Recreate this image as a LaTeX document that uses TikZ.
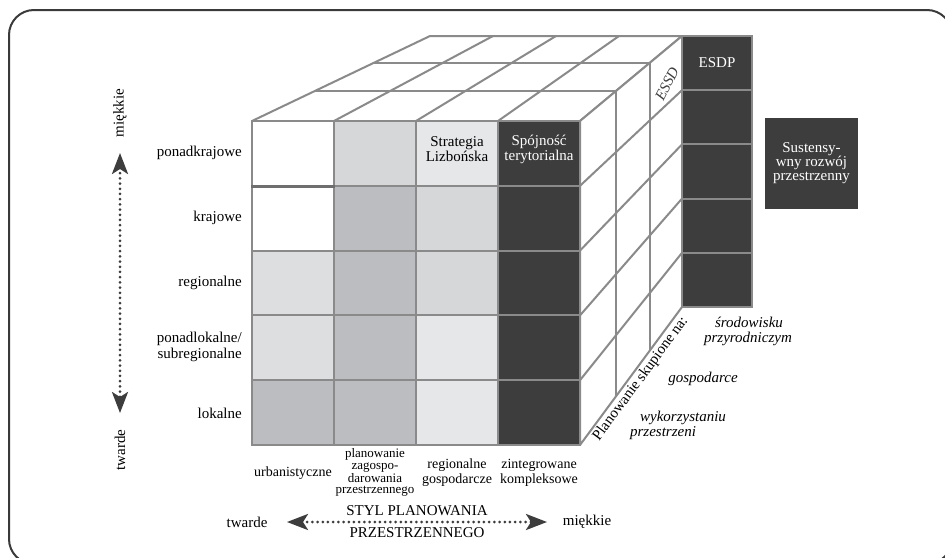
\documentclass[tikz,border=0pt]{standalone}
\usepackage{fontspec}
\setmainfont{Liberation Serif}
\usetikzlibrary{arrows.meta,calc}
\definecolor{edge}{HTML}{8A8A8A}
\definecolor{ink}{HTML}{3D3D3D}
\definecolor{rim}{HTML}{3A3A3A}
\definecolor{gmid}{HTML}{BCBDC0}
\definecolor{glight}{HTML}{D6D7D9}
\definecolor{gpale}{HTML}{DDDEE0}
\definecolor{gfaint}{HTML}{E6E7E9}
\tikzset{
  cell/.style={draw=edge, line width=2pt, minimum width=82pt, minimum height=64.8pt, inner sep=0pt, align=center},
  dcell/.style={cell, fill=ink},
  face/.style={draw=edge, line width=2pt, fill=white, line join=round},
  gridl/.style={draw=edge, line width=2pt},
  txt/.style={font=\fontsize{15}{15}\selectfont, inner sep=1pt},
  itx/.style={font=\fontsize{15}{15}\selectfont\itshape, inner sep=1pt, align=left},
  small/.style={font=\fontsize{14}{15}\selectfont, align=center, inner sep=1pt},
  dotarr/.style={{Stealth[length=21pt,width=16pt,inset=5pt]}-{Stealth[length=21pt,width=16pt,inset=5pt]}, ink, line width=3pt, line cap=round, dash pattern=on 0pt off 5.2pt}
}
\begin{document}
\begin{tikzpicture}[x=1pt,y=-1pt]
\useasboundingbox (0,0) rectangle (945,557);
\clip (0,0) rectangle (945,557);
\draw[rim, line width=2pt, rounded corners=25pt] (9,10) rectangle (952,564);

% cube corners
\coordinate (FTL) at (252,121);
\coordinate (FTR) at (580,121);
\coordinate (FBR) at (580,445);
\coordinate (BTL) at (430,36);
\coordinate (BTR) at (682,36);
\coordinate (BBR) at (682,307);

% top and right faces
\draw[face] (FTL) -- (BTL) -- (BTR) -- (FTR) -- cycle;
\draw[face] (FTR) -- (BTR) -- (BBR) -- (FBR) -- cycle;
\foreach \k in {1,2,3}
  \draw[gridl] ($(FTL)!\k/4!(FTR)$) -- ($(BTL)!\k/4!(BTR)$);
\foreach \t in {0.353,0.682}
  \draw[gridl] ($(FTL)!\t!(BTL)$) -- ($(FTR)!\t!(BTR)$) -- ($(FBR)!\t!(BBR)$);
\foreach \k in {1,...,4}
  \draw[gridl] ($(FTR)!\k/5!(FBR)$) -- ($(BTR)!\k/5!(BBR)$);

% front face
\foreach \r/\fa/\fb/\fc [evaluate=\r as \y using {121+64.8*(\r-0.5)}] in
  {1/white/glight/gfaint, 2/white/gmid/glight, 3/gpale/gmid/glight, 4/gpale/gmid/gfaint, 5/gmid/gmid/gfaint} {
  \node[cell, fill=\fa] (c\r1) at (293,\y) {};
  \node[cell, fill=\fb] (c\r2) at (375,\y) {};
  \node[cell, fill=\fc] (c\r3) at (457,\y) {};
  \node[dcell] (c\r4) at (539,\y) {};
}
\draw[edge!80!black, line width=3pt] (c11.south west) -- (c11.south east);
\node[txt, align=center] (lisbon) at ([yshift=4pt]c13.center) {Strategia\\Lizbońska};
\node[txt, align=center, text=white] (cohesion) at ([yshift=4pt]c14.center) {Spójność\\terytorialna};

% back column
\foreach \r in {1,...,5}
  \node[dcell, minimum width=70pt, minimum height=54.2pt] (e\r) at (717,{36+54.2*(\r-0.5)}) {};
\node[txt, text=white] (esdp) at (e1) {ESDP};
\node[itx, text=ink, rotate=63] (essd) at (667,84) {ESSD};
\node[txt, fill=ink, text=white, align=center, minimum width=93pt, minimum height=91pt, font=\fontsize{15}{14}\selectfont] (srp) at (811.5,163.5) {Sustensy-\\wny rozwój\\przestrzenny};

% depth axis
\path (FBR) -- node[txt, sloped, below, pos=0.52, inner sep=2.5pt] (focus) {Planowanie skupione na:} (BBR);
\node[itx] (nature) at (748,331) {\hspace*{11pt}środowisku\\przyrodniczym};
\node[itx] (economy) at (703,379) {gospodarce};
\node[itx] (landuse) at (678,425) {\hspace*{10pt}wykorzystaniu\\przestrzeni};

% level axis
\node[txt, anchor=east] (lv1) at (243,153) {ponadkrajowe};
\node[txt, anchor=east] (lv2) at (243,218) {krajowe};
\node[txt, anchor=east] (lv3) at (243,283) {regionalne};
\node[txt, anchor=east, align=right, font=\fontsize{15}{16}\selectfont] (lv4) at (243,346.5) {ponadlokalne/\\subregionalne};
\node[txt, anchor=east] (lv5) at (243,413) {lokalne};
\node[txt, rotate=90] (soft) at (120,113) {miękkie};
\node[txt, rotate=90] (hard) at (120,450) {twarde};
\coordinate (vtop) at (120,153);
\coordinate (vbot) at (120,413);
\draw[dotarr] (vtop) -- (vbot);

% style axis
\node[small] (st1) at (293,473) {urbanistyczne};
\node[small, font=\fontsize{13}{11.7}\selectfont] (st2) at (375,472.5) {planowanie\\zagospo-\\darowania\\przestrzennego};
\node[small] (st3) at (457,472.5) {regionalne\\gospodarcze};
\node[small] (st4) at (539,472.5) {zintegrowane\\kompleksowe};
\node[txt] (hardx) at (247,522) {twarde};
\node[txt] (softx) at (587,522) {miękkie};
\coordinate (hl) at (287,522);
\coordinate (hr) at (547,522);
\draw[dotarr] (hl) -- (hr);
\node[txt] (style1) at (417,511) {STYL PLANOWANIA};
\node[txt] (style2) at (417,533) {PRZESTRZENNEGO};
\end{tikzpicture}
\end{document}
